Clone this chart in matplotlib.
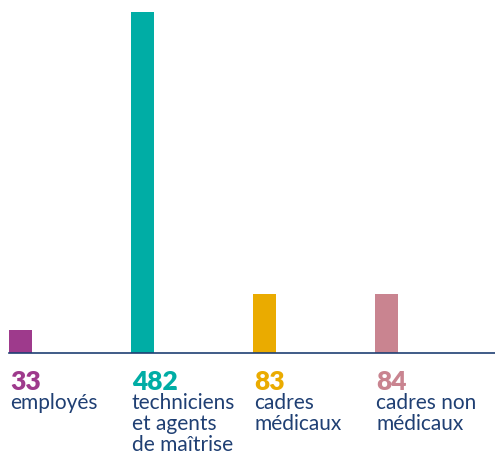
import matplotlib.pyplot as plt

# data
categories = ['employés', 'techniciens\net agents\nde maîtrise', 'cadres\nmédicaux', 'cadres non\nmédicaux']
values = [33, 482, 83, 84]
colors = ['#9E3A8C', '#00ADA5', '#EAAB00', '#C98490']
navy = '#1F3F73'

plt.rcParams['font.family'] = ['Lato', 'DejaVu Sans']

fig = plt.figure(figsize=(4.95, 4.55), dpi=100)
W, H = 495, 455
# axes from baseline (y=353) to top of tallest bar (y=12), x from 9 to 495
ax = fig.add_axes([9 / W, 1 - 353 / H, 1 - 9 / W, (353 - 12) / H])

step = 122
bw = 23
xs = [i * step for i in range(len(values))]
ax.bar(xs, values, width=bw, color=colors, align='edge')
ax.set_xlim(0, 486)
ax.set_ylim(0, max(values))
for s in ['top', 'right', 'left']:
    ax.spines[s].set_visible(False)
ax.spines['bottom'].set_color(navy)
ax.spines['bottom'].set_linewidth(1.2)
ax.set_xticks([])
ax.set_yticks([])

# labels under bars
for x, v, c, lab in zip(xs, values, colors, categories):
    fx = (9 + x + 1) / W
    fig.text(fx, 1 - 370 / H, str(v), color=c, fontsize=19, fontweight='heavy',
             va='top', ha='left')
    fig.text(fx, 1 - 393 / H, lab, color=navy, fontsize=15,
             va='top', ha='left', linespacing=1.07)

fig.savefig('out.png', dpi=100)
